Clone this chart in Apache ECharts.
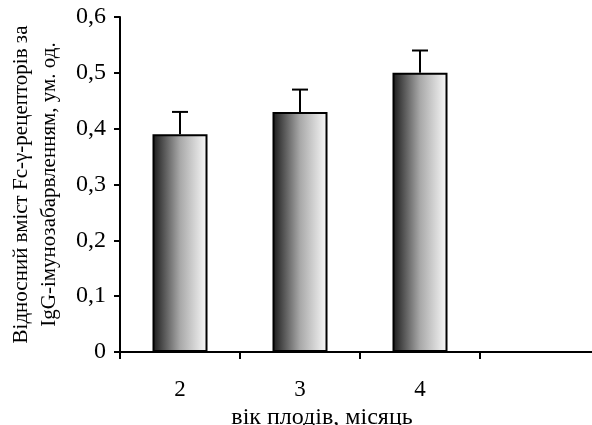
<!DOCTYPE html>
<html>
<head>
<meta charset="utf-8">
<script src="https://cdn.jsdelivr.net/npm/echarts@6/dist/echarts.min.js"></script>
<style>
  html, body { margin: 0; padding: 0; background: #fff; }
  #chart { width: 592px; height: 425px; }
</style>
</head>
<body>
<div id="chart"></div>
<script>
// вік плодів (місяці); останню порожню категорію залишено, як в оригіналі
const ages = ["2", "3", "4", ""];
const meanValues = [0.39, 0.43, 0.50];
const errValues = [0.04, 0.04, 0.04];

const FONT = "'Liberation Serif', 'DejaVu Serif', serif";

const chart = echarts.init(document.getElementById("chart"));

const barGradient = new echarts.graphic.LinearGradient(0, 0, 1, 0, [
  { offset: 0, color: "#1a1a1a" },
  { offset: 0.5, color: "#a8a8a8" },
  { offset: 1, color: "#fafafa" },
]);

chart.setOption({
  animation: false,
  grid: { left: 120, width: 480, top: 17, bottom: 73, containLabel: false, outerBoundsMode: "none" },
  xAxis: {
    type: "category",
    data: ages,
    name: "вік плодів, місяць",
    nameLocation: "middle",
    nameGap: 42,
    // зсув назви ліворуч, як в оригіналі
    nameTextStyle: { color: "#000", fontFamily: FONT, fontSize: 24, padding: [0, 76, 0, 0] },
    axisLine: { lineStyle: { color: "#000", width: 2 } },
    axisTick: { show: true, length: 7, lineStyle: { color: "#000", width: 2 } },
    axisLabel: { color: "#000", fontFamily: FONT, fontSize: 23, margin: 26 },
  },
  yAxis: {
    type: "value",
    min: 0,
    max: 0.6,
    interval: 0.1,
    name: "Відносний вміст Fc-γ-рецепторів за\nIgG-імунозабарвленням, ум. од.",
    nameLocation: "middle",
    nameGap: 57,
    nameRotate: 90,
    nameTextStyle: { color: "#000", fontFamily: FONT, fontSize: 21, lineHeight: 28 },
    axisLine: { show: true, lineStyle: { color: "#000", width: 2 } },
    axisTick: { show: true, length: 6, lineStyle: { color: "#000", width: 2 } },
    axisLabel: {
      color: "#000",
      fontFamily: FONT,
      fontSize: 24,
      margin: 14,
      formatter: (v) => (v === 0 ? "0" : v.toFixed(1).replace(".", ",")),
    },
    splitLine: { show: false },
  },
  series: [
    {
      type: "bar",
      data: meanValues,
      barWidth: 55,
      itemStyle: { color: barGradient, borderColor: "#000", borderWidth: 2 },
    },
    {
      type: "custom",
      z: 3,
      data: meanValues.map((v, i) => [i, v, errValues[i]]),
      renderItem: (params, api) => {
        const i = api.value(0);
        const base = api.coord([i, api.value(1)]);
        const top = api.coord([i, api.value(1) + api.value(2)]);
        const style = { stroke: "#000", lineWidth: 2 };
        return {
          type: "group",
          children: [
            { type: "line", shape: { x1: base[0], y1: base[1], x2: top[0], y2: top[1] }, style },
            { type: "line", shape: { x1: top[0] - 8, y1: top[1], x2: top[0] + 8, y2: top[1] }, style },
          ],
        };
      },
    },
  ],
});
</script>
</body>
</html>
